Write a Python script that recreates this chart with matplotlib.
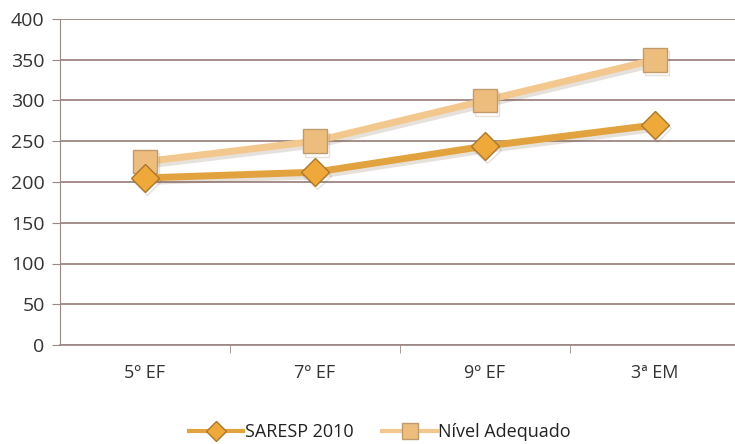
import matplotlib.pyplot as plt
import matplotlib.patheffects as pe
from matplotlib.lines import Line2D

categorias = ["5º EF", "7º EF", "9º EF", "3ª EM"]
saresp_2010 = [205, 212, 244, 270]
nivel_adequado = [225, 250, 300, 350]
y_ticks = [0, 50, 100, 150, 200, 250, 300, 350, 400]

plt.rcParams['font.family'] = ['Open Sans', 'DejaVu Sans']

fig = plt.figure(figsize=(7.35, 4.44), dpi=100)
ax = fig.add_axes([60 / 735, 99 / 444, 680 / 735, 326 / 444])

x = list(range(len(categorias)))
sombra = [pe.SimpleLineShadow(offset=(1.5, -2.5), shadow_color='#7a5a40', alpha=0.18), pe.Normal()]

ax.plot(x, nivel_adequado, color='#f3c88e', lw=5, marker='s', ms=17,
        mfc='#edbd7e', mec='#c09a6c', mew=1, path_effects=sombra, zorder=3)
ax.plot(x, saresp_2010, color='#e2a23e', lw=5, marker='D', ms=14,
        mfc='#efa83a', mec='#a9782c', mew=1, path_effects=sombra, zorder=4)

ax.set_xlim(-0.5, 3.5)
ax.set_ylim(0, 400)
ax.set_yticks(y_ticks)
ax.set_xticks(x)
ax.set_xticklabels(categorias)
ax.set_xticks([0.5, 1.5, 2.5], minor=True)
ax.tick_params(axis='x', which='major', length=0, pad=14, labelsize=13, colors='#333333')
ax.tick_params(axis='x', which='minor', length=6, color='#9a8884')
ax.tick_params(axis='y', length=6, color='#9a8884', labelsize=14, labelcolor='#333333', pad=5)
ax.grid(axis='y', color='#8c706c', lw=1.1)
ax.set_axisbelow(True)
for s in ['top', 'right']:
    ax.spines[s].set_visible(False)
ax.spines['left'].set_color('#9a8884')
ax.spines['bottom'].set_color('#9a8884')
ax.spines['bottom'].set_linewidth(1.2)

h = [Line2D([], [], color='#e2a23e', lw=3, marker='D', ms=10, mfc='#efa83a', mec='#a9782c'),
     Line2D([], [], color='#f3c88e', lw=3, marker='s', ms=11, mfc='#edbd7e', mec='#c09a6c')]
fig.legend(h, ['SARESP 2010', 'Nível Adequado'], loc='center', bbox_to_anchor=(380 / 735, 12 / 444),
           ncol=2, frameon=False, fontsize=13, handlelength=3.0,
           columnspacing=1.6, handletextpad=0.1, labelcolor='#222222')

fig.savefig('out.png', dpi=100)
